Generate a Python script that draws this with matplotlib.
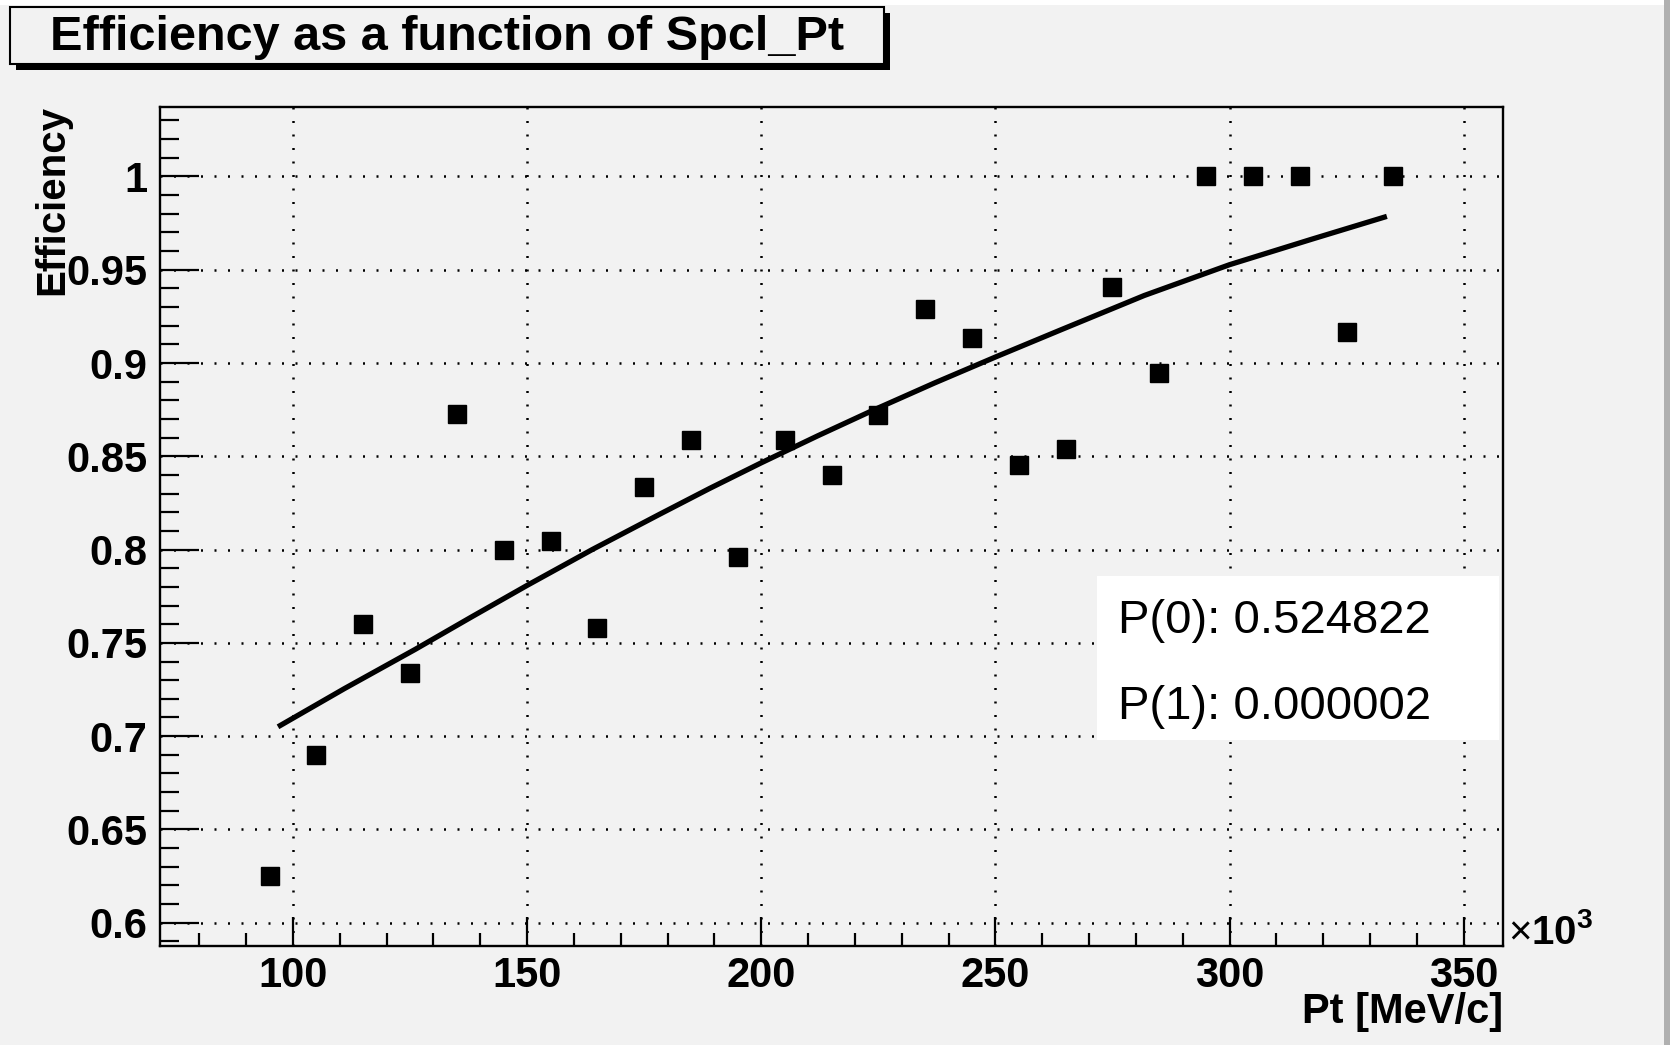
import numpy as np
import matplotlib
matplotlib.use('Agg')
import matplotlib.pyplot as plt
from matplotlib.patches import Rectangle
from matplotlib.ticker import MultipleLocator

plt.rcParams['font.family'] = ['Liberation Sans', 'DejaVu Sans']
plt.rcParams['mathtext.fontset'] = 'custom'
plt.rcParams['mathtext.rm'] = 'Liberation Sans'
plt.rcParams['mathtext.bf'] = 'Liberation Sans:bold'

# data: Pt in units of 10^3 MeV/c
pt = [95, 105, 115, 125, 135, 145, 155, 165, 175, 185, 195, 205, 215,
      225, 235, 245, 255, 265, 275, 285, 295, 305, 315, 325, 335]
eff = [0.625, 0.690, 0.760, 0.7336, 0.8726, 0.800, 0.8047, 0.758, 0.8337,
       0.8586, 0.796, 0.8586, 0.840, 0.872, 0.929, 0.9134, 0.8452, 0.8537,
       0.941, 0.8949, 1.0, 1.0, 1.0, 0.9167, 1.0]

# fit curve
fit_x = [96.8, 111, 126.1, 138, 150, 163.9, 178.2, 189, 200, 212, 223.9,
         237, 250, 263.9, 281.8, 300, 317.6, 333.6]
fit_y = [0.705, 0.7255, 0.7465, 0.7637, 0.7808, 0.800, 0.8188, 0.8328,
         0.8465, 0.8609, 0.8747, 0.8893, 0.9032, 0.9177, 0.9362, 0.9527,
         0.9664, 0.9786]

params = ["P(0): 0.524822", "P(1): 0.000002"]

W, H = 1670, 1045
bg = '#f2f2f2'

def fx(px):
    return px / W

def fy(py):
    return 1 - py / H

fig = plt.figure(figsize=(16.7, 10.45), dpi=100)
fig.patch.set_facecolor(bg)

ax = fig.add_axes([fx(160), fy(946), fx(1503) - fx(160), fy(106.5) - fy(946)])
ax.set_facecolor(bg)

ax.plot(fit_x, fit_y, color='black', lw=3.8, solid_capstyle='butt',
        solid_joinstyle='round', zorder=3)
ax.plot(pt, eff, ls='none', marker='s', ms=12.5, color='black', zorder=4)

ax.set_xlim(71.6, 358.4)
ax.set_ylim(0.5875, 1.0375)

ax.xaxis.set_major_locator(MultipleLocator(50))
ax.xaxis.set_minor_locator(MultipleLocator(10))
ax.yaxis.set_major_locator(MultipleLocator(0.05))
ax.yaxis.set_minor_locator(MultipleLocator(0.01))
ax.yaxis.set_major_formatter(plt.FuncFormatter(lambda v, p: ('%.2f' % v).rstrip('0').rstrip('.')))

ax.grid(True, which='major', color='black', lw=1.8, ls=(0, (0.8, 4.6)))
ax.tick_params(axis='both', which='both', direction='in', top=False, right=False, width=1.6)
ax.tick_params(axis='y', which='major', length=28, pad=9, labelsize=30)
ax.tick_params(axis='y', which='minor', length=14)
ax.tick_params(axis='x', which='major', length=21, pad=7, labelsize=30)
ax.tick_params(axis='x', which='minor', length=9.5)
for lab in ax.get_xticklabels() + ax.get_yticklabels():
    lab.set_fontweight('bold')
for s in ax.spines.values():
    s.set_linewidth(1.7)

# axis titles, ROOT style
fig.text(fx(1503), fy(1023), "Pt [MeV/c]", ha='right', va='baseline',
         fontsize=30, fontweight='bold')
fig.text(fx(63), fy(105), "Efficiency", rotation=90, rotation_mode='anchor',
         ha='right', va='baseline', fontsize=29, fontweight='bold')
fig.text(fx(1508), fy(944), r'$\times\mathbf{10}^{\mathbf{3}}$', ha='left',
         va='baseline', fontsize=29)

# fit parameter box
fig.patches.append(Rectangle((fx(1097), fy(740)), fx(1499) - fx(1097), fy(576) - fy(740),
                             transform=fig.transFigure, facecolor='white',
                             edgecolor='none', zorder=5))
fig.text(fx(1118), fy(633), params[0], ha='left', va='baseline', fontsize=34, zorder=6)
fig.text(fx(1118), fy(719), params[1], ha='left', va='baseline', fontsize=34, zorder=6)

# title box with shadow
fig.patches.append(Rectangle((fx(16), fy(70)), fx(890) - fx(16), fy(13) - fy(70),
                             transform=fig.transFigure, facecolor='black',
                             edgecolor='none', zorder=1))
fig.patches.append(Rectangle((fx(10), fy(64)), fx(884) - fx(10), fy(7) - fy(64),
                             transform=fig.transFigure, facecolor=bg,
                             edgecolor='black', lw=1.5, zorder=2))
fig.text(fx(50), fy(38), "Efficiency as a function of Spcl_Pt", ha='left',
         va='center', fontsize=35, fontweight='bold', zorder=3)

# frame edges of the screenshot
fig.patches.append(Rectangle((0, fy(5)), 1, fy(0) - fy(5), transform=fig.transFigure,
                             facecolor='white', edgecolor='none', zorder=0))
fig.patches.append(Rectangle((fx(1664), 0), fx(1670) - fx(1664), 1, transform=fig.transFigure,
                             facecolor='#b0b0b0', edgecolor='none', zorder=0))

fig.savefig('out.png', dpi=100, facecolor=bg)
